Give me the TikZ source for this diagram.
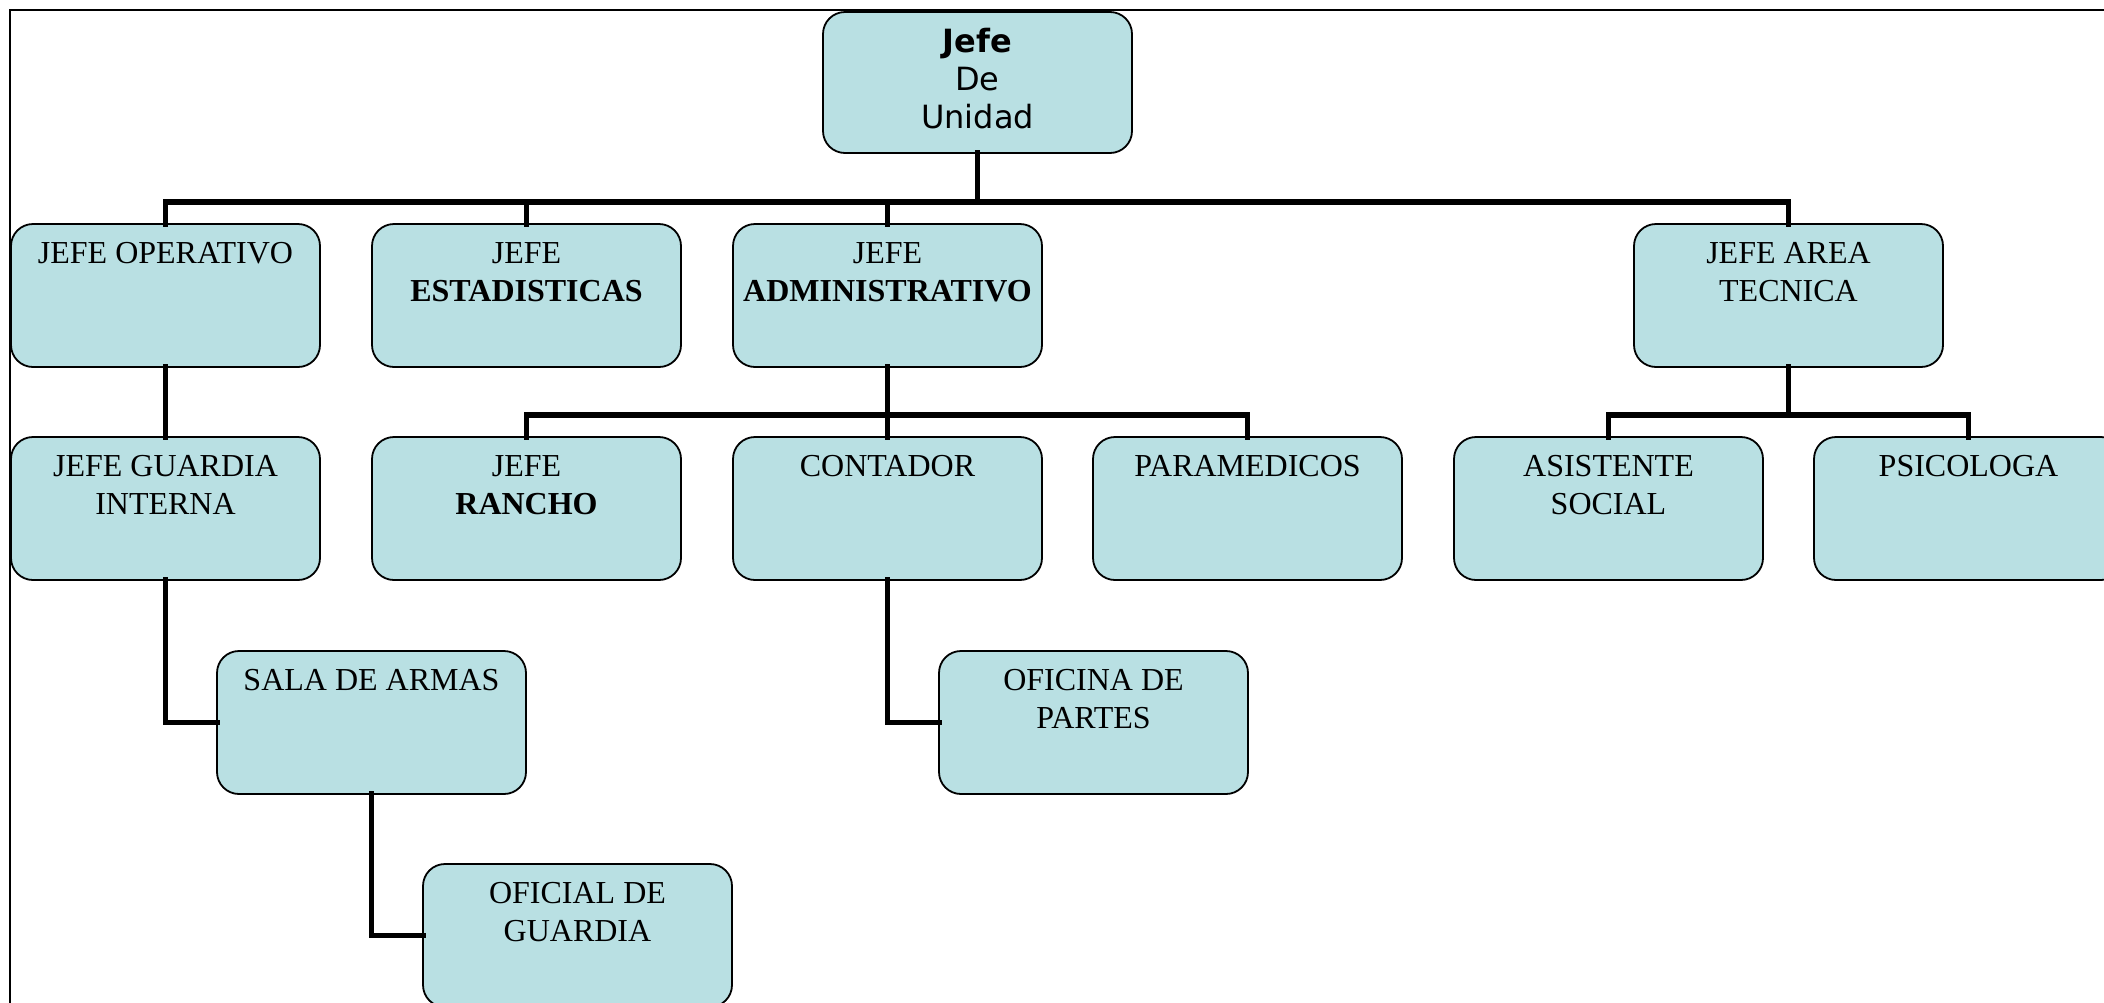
\documentclass[tikz,border=0pt]{standalone}
\usepackage{fontspec}
\setmainfont{Liberation Serif}
\newfontfamily\headfont{DejaVu Sans}
\definecolor{boxfill}{RGB}{185,224,227}
% text block of a box: lines hang from the top edge
\newcommand\boxlines[2][143]{\parbox[t][#1pt][t]{305pt}{\centering\rule{0pt}{39pt}#2}}
\tikzset{
  orgbox/.style={draw=black, line width=1.8pt, fill=boxfill, rounded corners=22pt,
    inner sep=0pt, outer sep=0pt, minimum width=309pt, minimum height=143pt,
    anchor=north west, font=\fontsize{32}{38}\selectfont},
  link/.style={line width=5.5pt, line join=miter, line cap=rect},
  frameline/.style={line width=2.5pt}
}
\begin{document}
\begin{tikzpicture}[x=1pt, y=-1pt]
\clip (0,0) rectangle (2104,1002);
\fill[white] (0,0) rectangle (2104,1002);

% page frame
\draw[frameline] (10,1020) -- (10,10) -- (2120,10);

% head of the unit
\node[orgbox, minimum height=141pt, font=\headfont\fontsize{32}{38}\selectfont] (jefe) at (823,12)
  {\parbox[t][141pt][t]{305pt}{\centering\rule{0pt}{40pt}\textbf{Jefe}\\De\\Unidad}};

% first level
\node[orgbox] (op)  at (11,224)   {\boxlines{JEFE OPERATIVO}};
\node[orgbox] (est) at (372,224)  {\boxlines{JEFE\\\textbf{ESTADISTICAS}}};
\node[orgbox] (adm) at (733,224)  {\boxlines{JEFE\\\textbf{ADMINISTRATIVO}}};
\node[orgbox] (tec) at (1634,224) {\boxlines{JEFE AREA\\TECNICA}};

% second level
\node[orgbox] (guard)  at (11,437)   {\boxlines{JEFE GUARDIA\\INTERNA}};
\node[orgbox] (rancho) at (372,437)  {\boxlines{JEFE\\\textbf{RANCHO}}};
\node[orgbox] (cont)   at (733,437)  {\boxlines{CONTADOR}};
\node[orgbox] (para)   at (1093,437) {\boxlines{PARAMEDICOS}};
\node[orgbox] (asis)   at (1454,437) {\boxlines{ASISTENTE\\SOCIAL}};
\node[orgbox] (psico)  at (1814,437) {\boxlines{PSICOLOGA}};

% third and fourth level
\node[orgbox] (sala)    at (217,651) {\boxlines{SALA DE ARMAS}};
\node[orgbox] (ofic)    at (939,651) {\boxlines{OFICINA DE\\PARTES}};
\node[orgbox] (oficial) at (423,864) {\boxlines{OFICIAL DE\\GUARDIA}};

% bus rails
\coordinate (busA) at (977.5,202);
\coordinate (busB) at (887.5,415);
\coordinate (busC) at (1788.5,415);

% connectors
\draw[link] (jefe.south) -- (busA);
\draw[link] (op.north) |- (busA) -| (tec.north);
\draw[link] (est.north) -- (est.north |- busA);
\draw[link] (adm.north) -- (adm.north |- busA);

\draw[link] (op.south) -- (guard.north);
\draw[link] (guard.south) |- (sala.west);
\draw[link] (sala.south) |- (oficial.west);

\draw[link] (adm.south) -- (busB);
\draw[link] (rancho.north) |- (busB) -| (para.north);
\draw[link] (cont.north) -- (cont.north |- busB);
\draw[link] (cont.south) |- (ofic.west);

\draw[link] (tec.south) -- (busC);
\draw[link] (asis.north) |- (busC) -| (psico.north);
\end{tikzpicture}
\end{document}
